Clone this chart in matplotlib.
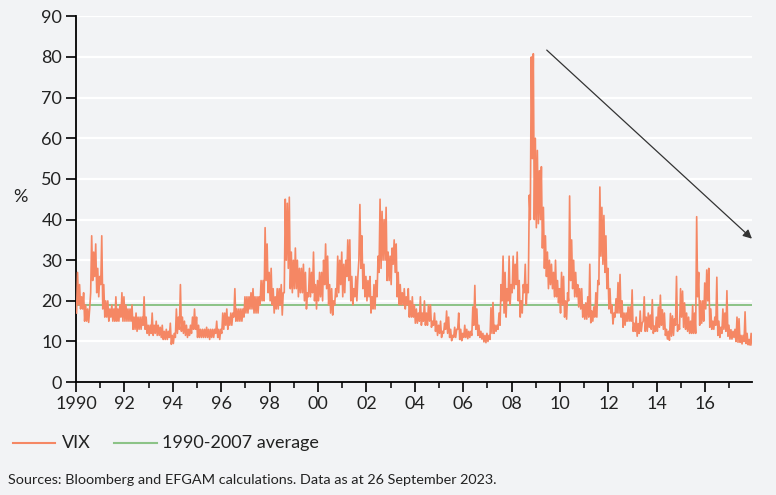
import numpy as np
import matplotlib
matplotlib.use("Agg")
import matplotlib.pyplot as plt
from matplotlib.lines import Line2D

plt.rcParams['font.family'] = ['Lato', 'DejaVu Sans']

# monthly low / high of the VIX close (Jan 1990 - Dec 2017)
vix_low = [
    17, 19, 18, 18, 15, 15, 14.7, 22, 25, 26, 22, 21,        # 1990
    24, 18, 16, 16, 15, 16, 15, 15, 15, 15, 16, 15,          # 1991
    15, 15, 15, 15, 13, 13, 12.5, 13, 13, 14, 13, 12,        # 1992
    11.5, 12, 11.5, 12, 11.5, 11.5, 11, 10.5, 10.5, 10.5, 11, 9.3,  # 1993
    9.5, 11, 12, 13, 12.5, 12, 11.5, 11, 11.5, 12, 13, 13,   # 1994
    11, 11, 11, 11, 11, 11, 10.5, 11, 11, 12, 11, 10.5,      # 1995
    12, 13, 14, 13, 14, 14, 16, 15, 15, 15, 15, 16,          # 1996
    17, 17, 18, 18, 17, 17, 17, 19, 20, 20, 25, 22,          # 1997
    20, 19, 17, 18, 18, 19, 16.5, 22, 30, 28, 23, 22,        # 1998
    23, 23, 21, 22, 22, 20, 18, 21, 21, 22, 20, 18,          # 1999
    20, 21, 20, 24, 23, 19, 17, 16.5, 19, 21, 22, 24,        # 2000
    21, 22, 26, 25, 20, 19, 21, 20, 30, 28, 23, 21,          # 2001
    20, 21, 17, 18, 18, 21, 27, 28, 30, 30, 25, 25,          # 2002
    24, 29, 27, 21, 19, 19, 19, 18, 19, 16, 16, 16,          # 2003
    14.5, 14.5, 15, 14, 15, 14, 14, 15, 13.5, 14, 12.5, 11.5,  # 2004
    12, 11, 12, 13, 12, 11, 10.2, 11, 11, 13, 10.5, 10.2,    # 2005
    11, 11, 10.7, 11, 11.5, 14, 13, 11.5, 11, 10.6, 9.9, 9.7,  # 2006
    10, 10.5, 12, 12, 12.5, 13, 14, 20, 17, 16, 20, 19,      # 2007
    22, 23, 24, 20, 16, 17, 22, 19, 22, 40, 55, 40,          # 2008
    38, 39, 40, 33, 28, 26, 23, 24, 23, 21, 21, 19.5,        # 2009
    17, 19, 16, 15.5, 20, 25, 23, 21, 21, 18.5, 18, 16,      # 2010
    15.5, 15.5, 16, 14.6, 15, 16, 16, 24, 31, 29, 27, 23,    # 2011
    18, 17, 14.3, 16, 17, 17, 16, 13.5, 14, 15, 15, 15,      # 2012
    12.5, 12.5, 11.3, 12, 12.5, 15, 12.5, 12.5, 13.5, 13, 12, 12.5,  # 2013
    12.5, 13.5, 14, 13, 11.5, 10.6, 10.3, 11.3, 11.5, 14, 12.5, 13,  # 2014
    16, 13.5, 13, 12.5, 12, 12, 12, 12, 21, 14, 14.5, 15,    # 2015
    18, 20, 13.5, 13, 13, 14, 11.5, 11, 12, 13, 12.5, 11.3,  # 2016
    10.6, 10.6, 11, 10, 9.8, 9.8, 9.4, 10, 9.5, 9.2, 9.1, 9.1,  # 2017
]
vix_high = [
    27, 24, 21, 22, 19, 18, 18, 36, 32, 34, 28, 26,          # 1990
    36, 24, 20, 20, 18, 19, 18, 21, 18, 19, 22, 21,          # 1991
    19, 18, 18, 19, 16, 17, 16, 16, 16, 21, 16, 14,          # 1992
    14, 17, 14, 15, 14, 13.5, 14, 12.5, 13, 12.5, 14.5, 11.5,  # 1993
    12, 18, 16, 24, 16, 15, 14, 13, 14, 16, 18, 16,          # 1994
    14, 13, 13, 13, 13.5, 13, 13, 13, 13, 15, 13, 13,        # 1995
    17, 17, 18, 16, 17, 17, 23, 18, 18, 18, 18, 21,          # 1996
    21, 21, 22, 23, 21, 21, 21, 25, 25, 38, 34, 27,          # 1997
    28, 23, 21, 23, 23, 24, 22, 45, 44, 45.5, 32, 30,        # 1998
    33, 30, 28, 28, 29, 27, 22, 28, 27, 32, 24, 25,          # 1999
    27, 27, 30, 34, 31, 24, 23, 20, 23, 31, 30, 32,          # 2000
    29, 30, 35, 35, 26, 23, 26, 26, 43.7, 36, 29, 26,        # 2001
    25, 26, 21, 24, 25, 31, 45, 42, 40, 43, 32, 31,          # 2002
    33, 35, 34, 27, 24, 22, 23, 21, 23, 20, 21, 19,          # 2003
    18, 17, 21, 17, 20, 17, 19, 19, 15, 17, 15, 14,          # 2004
    15, 12.5, 14.5, 17.5, 16, 13, 11.5, 13.5, 13, 17, 13, 12,  # 2005
    14, 13, 12.5, 12.5, 18.5, 23.8, 18, 14, 12.5, 12, 11.5, 12,  # 2006
    11.5, 18.3, 19.6, 14, 14, 17, 24, 31, 27, 23, 31, 24,    # 2007
    31, 29, 32, 25, 20, 24, 29, 24, 46, 80, 80.8, 60,        # 2008
    57, 52, 53, 43, 36, 32, 30, 29, 27, 30, 25, 23,          # 2009
    27, 26, 20, 22, 45.8, 35, 30, 27, 24, 23, 23, 19,        # 2010
    19.5, 21, 29, 17.5, 18.5, 22, 25, 48, 43, 41, 36, 28,    # 2011
    23, 19, 17, 20.5, 24.5, 26.5, 20, 17, 17, 18.5, 18.5, 22.7,  # 2012
    14.5, 16, 14.4, 17.5, 14.5, 21, 16, 17, 16.5, 20.3, 13.8, 16,  # 2013
    18.5, 21.4, 17.8, 17, 13, 12.5, 16.9, 16.3, 15.6, 26, 14, 23,  # 2014
    22.4, 19.5, 17, 16, 15, 18.9, 17, 40.7, 27, 20, 20, 24.4,  # 2015
    27.6, 28, 18, 15, 16, 25.8, 15, 13.5, 18, 17, 22.5, 14,  # 2016
    12.9, 12.5, 13, 16, 15.6, 11.5, 11.5, 17.3, 12, 10.5, 12, 11.5,  # 2017
]
avg_1990_2007 = 19.0
start_year = 1990
tick_years = list(range(1990, 2017, 2))
tick_labels = ['1990'] + [f"{y % 100:02d}" for y in tick_years[1:]]

BG = '#F2F3F5'
ORANGE = '#F58764'
GREEN = '#8CC387'
TXT = '#222222'

# interleave low/high -> two points per month
vals = np.column_stack([vix_low, vix_high]).ravel()
t = start_year + (np.arange(len(vals)) + 0.5) / 24

fig = plt.figure(figsize=(7.76, 4.95), dpi=100, facecolor=BG)
ax = fig.add_axes([0.098, 0.228, 0.871, 0.739])
ax.set_facecolor(BG)

for y in range(10, 91, 10):
    ax.axhline(y, color='white', lw=1.6, zorder=1)

ax.plot(t, vals, color=ORANGE, lw=1.2, zorder=3)
ax.axhline(avg_1990_2007, color=GREEN, lw=1.4, zorder=2)

ax.annotate('', xy=(2017.93, 35.3), xytext=(2009.45, 81.7),
            arrowprops=dict(arrowstyle='-|>', color='#333333', lw=0.9,
                            mutation_scale=13, shrinkA=0, shrinkB=0),
            annotation_clip=False, zorder=4)

ax.set_xlim(1990, 2017.93)
ax.set_ylim(0, 90)
ax.set_yticks(range(0, 91, 10))
ax.set_xticks(tick_years)
ax.set_xticklabels(tick_labels)
ax.set_xticks(range(1991, 2018, 2), minor=True)

for s in ['top', 'right']:
    ax.spines[s].set_visible(False)
for s in ['left', 'bottom']:
    ax.spines[s].set_color('black')
    ax.spines[s].set_linewidth(1.3)
ax.tick_params(axis='both', which='major', length=7, width=1.2, color='black',
               labelsize=13, labelcolor=TXT, pad=3)
ax.tick_params(axis='x', which='minor', length=4, width=1.1, color='black')

fig.text(20 / 776, 1 - 197 / 495, '%', fontsize=13, color=TXT, ha='center', va='center')

# legend drawn by hand
ly = 1 - 443 / 495
fig.add_artist(Line2D([13 / 776, 55 / 776], [ly, ly], color=ORANGE, lw=1.5))
fig.text(62 / 776, ly, 'VIX', fontsize=13, color=TXT, va='center')
fig.add_artist(Line2D([114 / 776, 157 / 776], [ly, ly], color=GREEN, lw=1.5))
fig.text(162 / 776, ly, '1990-2007 average', fontsize=13, color=TXT, va='center')

fig.text(8 / 776, 1 - 480 / 495,
         'Sources: Bloomberg and EFGAM calculations. Data as at 26 September 2023.',
         fontsize=10.4, color=TXT, va='center')

fig.savefig('out.png', dpi=100, facecolor=BG)
